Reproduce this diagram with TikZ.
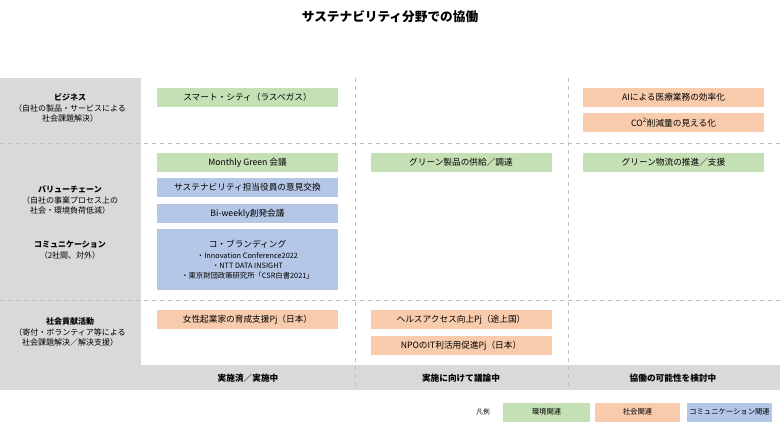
\documentclass[tikz,border=0pt]{standalone}
\usepackage{fontspec}
\setmainfont{Noto Sans CJK JP}
\definecolor{envgreen}{HTML}{C5E0B4}
\definecolor{socorange}{HTML}{F8CBAD}
\definecolor{comblue}{HTML}{B4C7E7}
\definecolor{headgray}{HTML}{D9D9D9}
\tikzset{
  item/.style={minimum width=181*0.75pt, minimum height=19*0.75pt, inner sep=0pt, font=\fontsize{6.5}{7.5}\selectfont, align=center},
  envbox/.style={item, fill=envgreen},
  socbox/.style={item, fill=socorange},
  combox/.style={item, fill=comblue},
  rowhead/.style={font=\fontsize{6}{8}\selectfont, align=center},
  colhead/.style={font=\bfseries\fontsize{6.5}{8}\selectfont},
  sep/.style={gray!50, dashed, line width=0.6pt}
}
\begin{document}
\begin{tikzpicture}[x=0.75pt,y=-0.75pt]
    \useasboundingbox (0,0) rectangle (780,422);
    \node (title) at (390,17) {\bfseries\fontsize{9.5}{11}\selectfont サステナビリティ分野での協働};

    % background and grid
    \fill[headgray] (0,78) rectangle (141,390);
    \fill[headgray] (0,365) rectangle (780,390);
    \draw[sep] (0,143) -- (780,143);
    \draw[sep] (0,300) -- (780,300);
    \draw[sep] (355,78) -- (355,390);
    \draw[sep] (568,78) -- (568,390);

    % row headers
    \node[rowhead] (business) at (70,108) {\textbf{ビジネス}\\（自社の製品・サービスによる\\社会課題解決）};
    \node[rowhead] (value) at (70,200) {\textbf{バリューチェーン}\\（自社の事業プロセス上の\\社会・環境負荷低減）};
    \node[rowhead] (comm) at (70,250) {\textbf{コミュニケーション}\\（2社間、対外）};
    \node[rowhead] (social) at (70,332) {\textbf{社会貢献活動}\\（寄付・ボランティア等による\\社会課題解決／解決支援）};

    % column 1
    \node[envbox] (smart) at (247.5,97) {スマート・シティ（ラスベガス）};
    \node[envbox] (monthly) at (247.5,162.5) {Monthly Green 会議};
    \node[combox] (opinion) at (247.5,187.5) {サステナビリティ担当役員の意見交換};
    \node[combox] (biweekly) at (247.5,213.5) {Bi-weekly創発会議};
    \node[combox, minimum height=61*0.75pt] (cobrand) at (247.5,259.5) {コ・ブランディング\\[1pt]
        {\fontsize{5.5}{6.5}\selectfont ・Innovation Conference2022}\\
        {\fontsize{5.5}{6.5}\selectfont ・NTT DATA INSIGHT}\\
        {\fontsize{5.5}{6.5}\selectfont ・東京財団政策研究所「CSR白書2021」}};
    \node[socbox] (women) at (247.5,319.5) {女性起業家の育成支援Pj（日本）};

    % column 2
    \node[envbox] (greenprod) at (461,162.5) {グリーン製品の供給／調達};
    \node[socbox] (health) at (461,319.5) {ヘルスアクセス向上Pj（途上国）};
    \node[socbox] (npo) at (461,345.5) {NPOのIT利活用促進Pj（日本）};

    % column 3
    \node[socbox] (ai) at (673.5,97) {AIによる医療業務の効率化};
    \node[socbox] (co2) at (673.5,122.5) {CO\textsuperscript{2}削減量の見える化};
    \node[envbox] (logistics) at (673.5,162.5) {グリーン物流の推進／支援};

    % column headers
    \node[colhead] (done) at (248,378) {実施済／実施中};
    \node[colhead] (discuss) at (461,378) {実施に向けて議論中};
    \node[colhead] (consider) at (673,378) {協働の可能性を検討中};

    % legend
    \node[font=\fontsize{5}{6}\selectfont] (legend) at (483,412) {凡例};
    \node[envbox, minimum width=87*0.75pt, font=\fontsize{5.5}{6}\selectfont] (lgreen) at (546.5,412) {環境関連};
    \node[socbox, minimum width=85*0.75pt, font=\fontsize{5.5}{6}\selectfont] (lorange) at (637.5,412) {社会関連};
    \node[combox, minimum width=85*0.75pt, font=\fontsize{5.5}{6}\selectfont] (lblue) at (729.5,412) {コミュニケーション関連};
\end{tikzpicture}
\end{document}
